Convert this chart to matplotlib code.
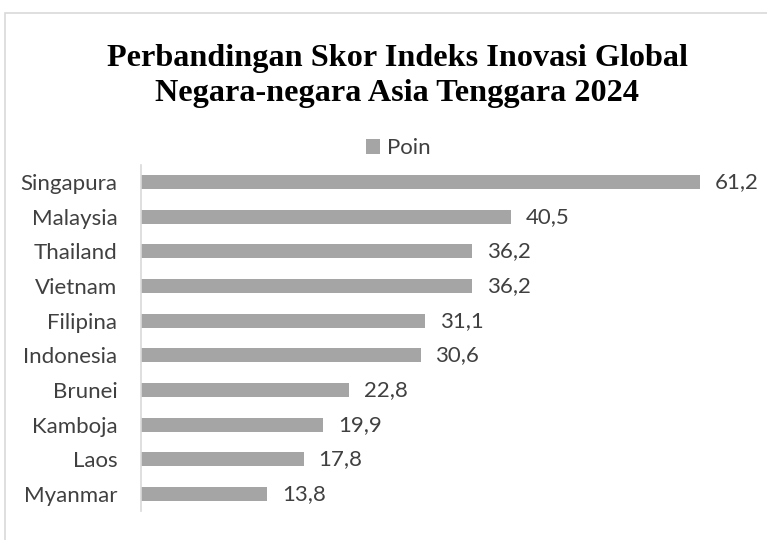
import numpy as np
import matplotlib
matplotlib.use('Agg')
import matplotlib.pyplot as plt
from matplotlib.patches import Rectangle

negara = ['Singapura', 'Malaysia', 'Thailand', 'Vietnam', 'Filipina',
          'Indonesia', 'Brunei', 'Kamboja', 'Laos', 'Myanmar']
poin = [61.2, 40.5, 36.2, 36.2, 31.1, 30.6, 22.8, 19.9, 17.8, 13.8]

judul = 'Perbandingan Skor Indeks Inovasi Global\nNegara-negara Asia Tenggara 2024'
label_font = 'Lato'
fs = 16
teks_warna = '#404040'
bar_warna = '#A5A5A5'

f = plt.figure(figsize=(7.67, 5.4), dpi=100)
W, H = 767, 540

# chart border (excel style), right/bottom fall outside the picture
f.patches.append(Rectangle((5/W, -0.1), 1.2, 1 - 13/H + 0.1, transform=f.transFigure,
                           fill=False, ec='#D9D9D9', lw=1.2))

ax = f.add_axes([141/W, 1 - 511.3/H, 1 - 141/W, (511.3 - 164.7)/H])
y = np.arange(len(negara))
ax.barh(y, poin, height=0.4, color=bar_warna, label='Poin')
ax.set_ylim(len(negara) - 0.5, -0.5)
ax.set_xlim(0, 626/9.134)
ax.set_yticks(y)
ax.set_yticklabels(negara, fontsize=fs, color=teks_warna, family=label_font)
ax.tick_params(axis='y', length=0, pad=17)
ax.set_xticks([])
for s in ['top', 'right', 'bottom']:
    ax.spines[s].set_visible(False)
ax.spines['left'].set_color('#D9D9D9')
ax.spines['left'].set_linewidth(1.2)

for yi, v in zip(y, poin):
    ax.annotate(f'{v:.1f}'.replace('.', ','), (v, yi), xytext=(15, 0),
                textcoords='offset pixels', va='center', ha='left',
                fontsize=fs, color=teks_warna, family=label_font)

f.text(0.518, 1 - 76/H, judul, ha='center', va='center', fontsize=23.2,
       fontweight='bold', family='Liberation Serif', linespacing=1.27)

leg = ax.legend(loc='center', bbox_to_anchor=(398/W, 1 - 148/H),
                bbox_transform=f.transFigure, frameon=False, handlelength=0.65,
                handleheight=0.65, handletextpad=0.3,
                prop={'family': label_font, 'size': fs})
for t in leg.get_texts():
    t.set_color(teks_warna)

f.savefig('out.png', dpi=100)
